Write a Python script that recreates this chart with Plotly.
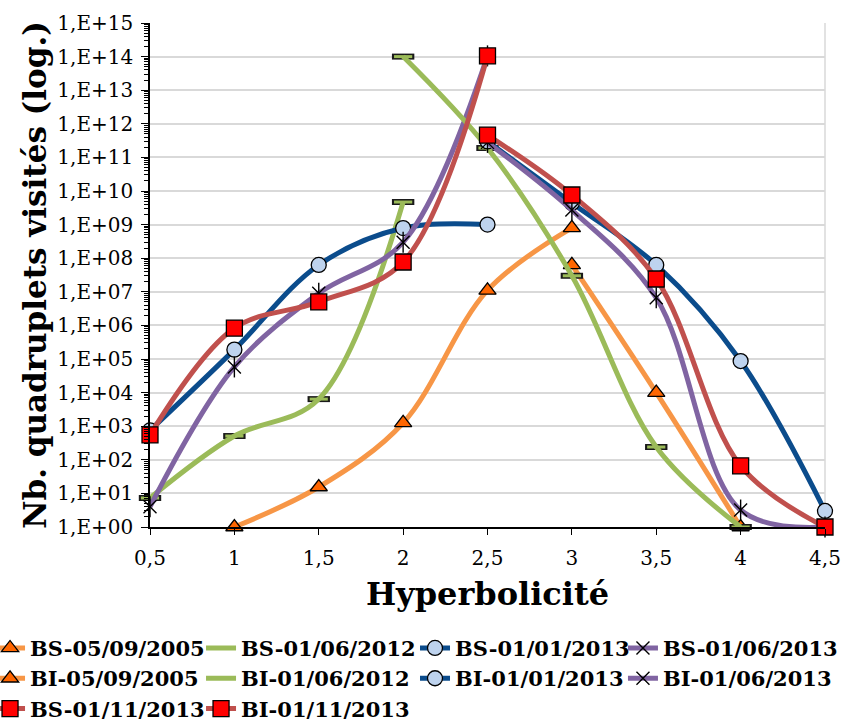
import plotly.graph_objects as go

# Hyperbolicity levels (x axis)
hyperbolicite = [0.5, 1, 1.5, 2, 2.5, 3, 3.5, 4, 4.5]

# Number of visited quadruplets per hyperbolicity level (None = no value)
bs_2005 = [None, 1, 15.5, 1.25e3, 1.1e7, 8.0e8, None, None, None]
bi_2005 = [None, None, None, None, None, 6.3e7, 1.0e4, 1, None]
bs_2012 = [7.3, 510, 6.4e3, 4.7e9, None, None, None, None, None]
bi_2012 = [None, None, None, 1.0e14, 1.9e11, 3.0e7, 240, 1, None]
bs_2013_01 = [750, 1.9e5, 6.3e7, 7.9e8, 1.0e9, None, None, None, None]
bi_2013_01 = [None, None, None, None, 3.0e11, 4.4e9, 6.3e7, 8.7e4, 3]
bs_2013_06 = [4, 5.8e4, 9.0e6, 3.0e8, 1.05e14, None, None, None, None]
bi_2013_06 = [None, None, None, None, 2.8e11, 2.7e9, 6.6e6, 3.2, 1]
bs_2013_11 = [550, 8.3e5, 5.0e6, 7.7e7, 1.05e14, None, None, None, None]
bi_2013_11 = [None, None, None, None, 4.6e11, 7.6e9, 2.4e7, 66, 1]

# Y tick labels (powers of ten)
y_exponents = list(range(0, 16))
y_ticktext = ["1,E+%02d" % k for k in y_exponents]
x_ticktext = ["0,5", "1", "1,5", "2", "2,5", "3", "3,5", "4", "4,5"]

ORANGE, GREEN, BLUE, PURPLE, RED = "#F79646", "#9BBB59", "#0B4C8C", "#8064A2", "#C0504D"

styles = {
    "2005": dict(line=ORANGE, marker=dict(symbol="triangle-up", size=15, color="#FF6600",
                                          line=dict(color="black", width=1.3))),
    "2012": dict(line=GREEN, marker=dict(symbol="line-ew", size=13, color=GREEN,
                                         line=dict(color=GREEN, width=3))),
    "2013_01": dict(line=BLUE, marker=dict(symbol="circle", size=15, color="#BED3EE",
                                           line=dict(color="black", width=1.3))),
    "2013_06": dict(line=PURPLE, marker=dict(symbol="x-thin-open", size=13, color="black",
                                             line=dict(color="black", width=1.4))),
    "2013_11": dict(line=RED, marker=dict(symbol="square", size=16, color="#FF0000",
                                          line=dict(color="black", width=1.3))),
}

# (name, values, style, legend column)
series = [
    ("BS-05/09/2005", bs_2005, "2005", "legend"),
    ("BS-01/06/2012", bs_2012, "2012", "legend2"),
    ("BS-01/01/2013", bs_2013_01, "2013_01", "legend3"),
    ("BS-01/06/2013", bs_2013_06, "2013_06", "legend4"),
    ("BI-05/09/2005", bi_2005, "2005", "legend"),
    ("BI-01/06/2012", bi_2012, "2012", "legend2"),
    ("BI-01/01/2013", bi_2013_01, "2013_01", "legend3"),
    ("BI-01/06/2013", bi_2013_06, "2013_06", "legend4"),
    ("BS-01/11/2013", bs_2013_11, "2013_11", "legend"),
    ("BI-01/11/2013", bi_2013_11, "2013_11", "legend2"),
]

fig = go.Figure()
for name, values, key, leg in series:
    st = styles[key]
    if key == "2012":
        # dark outline under the green bar markers
        fig.add_trace(go.Scatter(
            x=hyperbolicite, y=values, mode="markers", showlegend=False, hoverinfo="skip",
            cliponaxis=False, legendgroup=name, legend=leg,
            marker=dict(symbol="line-ew", size=16, line=dict(color="#1a1a1a", width=6)),
        ))
    fig.add_trace(go.Scatter(
        x=hyperbolicite, y=values, name=name, mode="lines+markers", legendgroup=name,
        legend=leg,
        line=dict(color=st["line"], width=5, shape="spline", smoothing=1),
        marker=st["marker"], cliponaxis=False,
    ))
    if key == "2013_06":
        # vertical stroke completing the star markers
        fig.add_trace(go.Scatter(
            x=hyperbolicite, y=values, mode="markers", showlegend=False, hoverinfo="skip",
            cliponaxis=False, legendgroup=name, legend=leg,
            marker=dict(symbol="line-ns-open", size=15, color="black",
                        line=dict(color="black", width=1.4)),
        ))

legend_font = dict(family="DejaVu Serif", size=21, color="black", weight="bold")


def legend_column(x):
    return dict(orientation="v", x=x, xanchor="left", y=-0.2, yanchor="top",
                font=legend_font, itemwidth=30, tracegroupgap=0,
                bgcolor="rgba(0,0,0,0)")


fig.update_layout(
    width=842, height=724,
    margin=dict(l=150, r=17, t=23, b=197, autoexpand=False),
    paper_bgcolor="white", plot_bgcolor="white",
    font=dict(family="DejaVu Serif", color="black", size=20),
    showlegend=True,
    legend=legend_column(-0.237),
    legend2=legend_column(0.0756),
    legend3=legend_column(0.3926),
    legend4=legend_column(0.7007),
    xaxis=dict(
        range=[0.5, 4.5], tickmode="array", tickvals=hyperbolicite, ticktext=x_ticktext,
        showgrid=False, zeroline=False,
        showline=True, linecolor="black", linewidth=1.5,
        ticks="outside", ticklen=6, tickwidth=1.3, tickcolor="black",
        tickfont=dict(size=20), ticklabelstandoff=6,
        title=dict(text="<b>Hyperbolicité</b>", font=dict(size=32), standoff=14),
        automargin=False,
    ),
    yaxis=dict(
        type="log", range=[0, 15],
        tickmode="array", tickvals=[10 ** k for k in y_exponents], ticktext=y_ticktext,
        showgrid=True, gridcolor="#D9D9D9", gridwidth=1.5, zeroline=False,
        showline=True, linecolor="black", linewidth=1.5,
        ticks="outside", ticklen=7, tickwidth=1.3, tickcolor="black",
        minor=dict(dtick="D1", ticks="outside", ticklen=4,
                   tickwidth=1, tickcolor="black", showgrid=False),
        tickfont=dict(size=20), ticklabelstandoff=4,
        title=dict(text="<b>Nb. quadruplets visités (log.)</b>", font=dict(size=31), standoff=2),
        automargin=False,
    ),
    shapes=[dict(type="line", xref="paper", yref="paper", x0=1, x1=1, y0=0, y1=1,
                 line=dict(color="#D9D9D9", width=1.5), layer="below")],
)

fig.write_html("out.html")
